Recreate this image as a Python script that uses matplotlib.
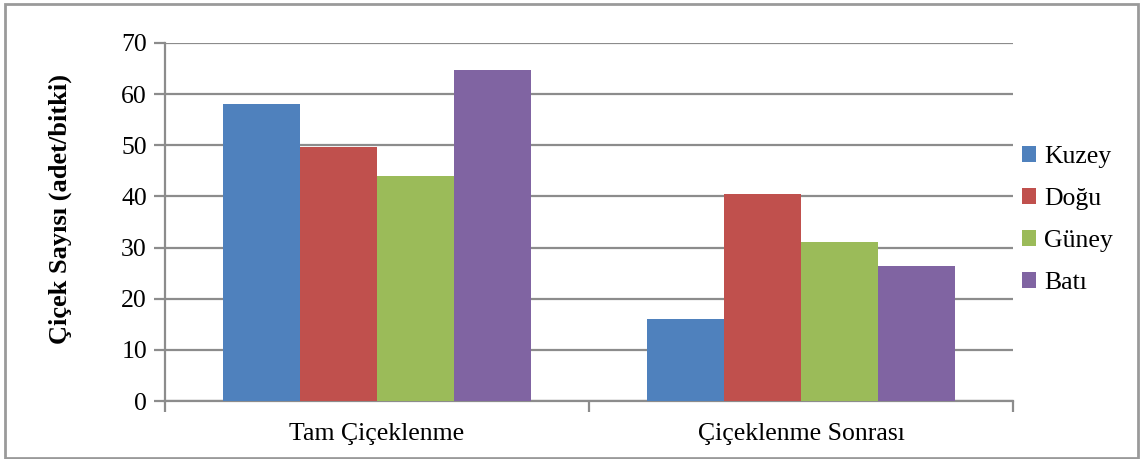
import matplotlib.pyplot as plt
import numpy as np
from matplotlib.patches import Rectangle

plt.rcParams['font.family'] = ['Liberation Serif', 'DejaVu Serif']

categories = ['Tam Çiçeklenme', 'Çiçeklenme Sonrası']
series = ['Kuzey', 'Doğu', 'Güney', 'Batı']
values = {
    'Kuzey': [58.0, 16.0],
    'Doğu': [49.7, 40.5],
    'Güney': [44.0, 31.0],
    'Batı': [64.8, 26.3],
}
colors = ['#4f81bd', '#c0504d', '#9bbb59', '#8064a2']
yticks = [0, 10, 20, 30, 40, 50, 60, 70]

W, H = 1140, 459
FS = 18.5
fig = plt.figure(figsize=(W / 100, H / 100), dpi=100, facecolor='white')
ax = fig.add_axes([165 / W, 1 - 401 / H, (1013 - 165) / W, (401 - 43) / H])

# four bars per group, group takes ~72% of the category slot
n = len(series)
bw = 0.725 / n
x = np.arange(len(categories))
for i, (name, c) in enumerate(zip(series, colors)):
    off = (i - (n - 1) / 2) * bw
    ax.bar(x + off, values[name], bw, color=c, label=name, zorder=3,
           edgecolor='none')

ax.set_xlim(-0.5, len(categories) - 0.5)
ax.set_ylim(0, 70)
ax.set_yticks(yticks)
ax.set_yticklabels([str(t) for t in yticks], fontsize=FS)
ax.yaxis.grid(True, color='#8c8c8c', linewidth=1.6, zorder=0)
ax.tick_params(axis='y', length=8, width=1.6, color='#8c8c8c', pad=5)

# category labels centred, ticks on the category boundaries
ax.set_xticks(x)
ax.set_xticklabels(categories, fontsize=FS)
ax.tick_params(axis='x', length=0, pad=16)
ax.set_xticks(np.arange(-0.5, len(categories)), minor=True)
ax.tick_params(axis='x', which='minor', length=8, width=1.6, color='#8c8c8c')

for s in ['top', 'right']:
    ax.spines[s].set_visible(False)
for s in ['left', 'bottom']:
    ax.spines[s].set_color('#8c8c8c')
    ax.spines[s].set_linewidth(1.6)

fig.text(60 / W, 1 - 209 / H, 'Çiçek Sayısı (adet/bitki)', rotation=90,
         fontsize=19, fontweight='bold', ha='center', va='center')

leg = ax.legend(loc='upper left', bbox_to_anchor=(1022 / W, 1 - 146 / H),
                bbox_transform=fig.transFigure, frameon=False, fontsize=FS,
                handlelength=0.55, handleheight=0.55, handletextpad=0.3,
                labelspacing=0.78, borderaxespad=0, borderpad=0)

# outer frame of the chart area
fig.patches.append(Rectangle((5 / W, 1.5 / H), 1133 / W, 454 / H,
                             transform=fig.transFigure, fill=False,
                             edgecolor='#9a9a9a', linewidth=2))

fig.savefig('out.png', dpi=100, facecolor='white')
